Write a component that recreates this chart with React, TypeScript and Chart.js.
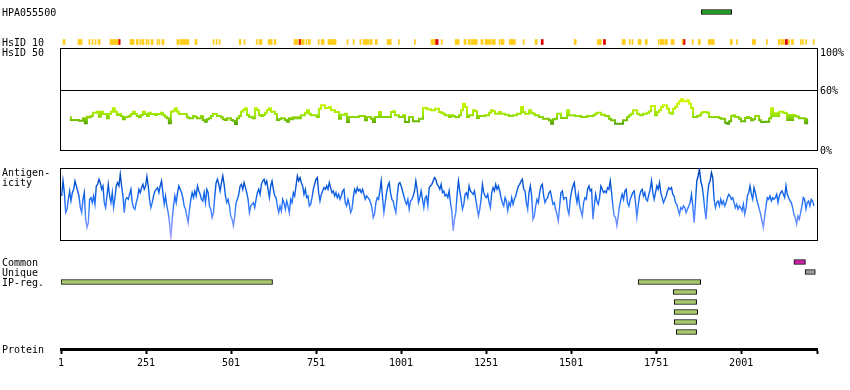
import React, { useEffect, useRef } from 'react';
import { Chart, registerables } from 'chart.js';

Chart.register(...registerables);

// ---------------- data ----------------
const PROTEIN_LENGTH = 2224;
const AXIS_TICKS = [1, 251, 501, 751, 1001, 1251, 1501, 1751, 2001, 2224];
const HSID_TICKS = [0, 60, 100];

const ROW_LABELS = ['HPA055500', '', '', 'HsID 10', 'HsID 50', '', '', '', '', '', '', '', '', '', '', '', 'Antigen-', 'icity', '', '', '', '', '', '', '', 'Common', 'Unique', 'IP-reg.', '', '', '', '', '', ''];
const ROW_KEYS = ROW_LABELS.map((_, i) => 'row' + i);

const HPA_BARS = [[1884, 1973]];
const COMMON_BARS = [[2156, 2190]];
const UNIQUE_BARS = [[2189, 2219]];
// [from, to, track]
const IPREG_BARS = [[1, 623, 27], [1698, 1882, 27], [1801, 1870, 28], [1804, 1870, 29], [1804, 1873, 30], [1804, 1870, 31], [1810, 1870, 32]];

const HSID10_YELLOW = [[7, 13], [51, 63], [83, 86], [92, 95], [101, 104], [110, 116], [145, 169], [204, 216], [222, 228], [233, 236], [239, 245], [251, 254], [257, 260], [266, 272], [283, 286], [289, 292], [298, 304], [342, 348], [351, 377], [395, 401], [448, 451], [457, 460], [466, 469], [525, 530], [539, 542], [575, 578], [583, 592], [610, 622], [628, 633], [686, 698], [707, 716], [721, 724], [728, 734], [757, 760], [766, 775], [786, 810], [842, 845], [860, 863], [880, 883], [889, 907], [910, 916], [925, 931], [960, 972], [993, 996], [1040, 1043], [1089, 1101], [1119, 1122], [1160, 1172], [1186, 1192], [1198, 1204], [1207, 1225], [1236, 1242], [1248, 1266], [1269, 1278], [1289, 1292], [1295, 1304], [1319, 1337], [1360, 1363], [1395, 1401], [1510, 1516], [1578, 1590], [1651, 1660], [1672, 1675], [1680, 1683], [1698, 1707], [1719, 1725], [1757, 1760], [1763, 1775], [1778, 1784], [1795, 1804], [1827, 1830], [1857, 1860], [1875, 1881], [1904, 1922], [1969, 1975], [1987, 1990], [2034, 2043], [2075, 2078], [2110, 2116], [2119, 2128], [2140, 2143], [2149, 2155], [2175, 2178], [2181, 2184], [2190, 2193], [2213, 2216]];
const HSID10_RED = [[169, 175], [701, 707], [1101, 1110], [1413, 1419], [1596, 1602], [1830, 1836], [2131, 2137]];

// HsID 50 identity (%), residues 27..2198 evenly spaced
const HSID_RANGE = [27, 2198];
const HSID50 = [
  32.7, 30, 30, 30, 30, 29.3, 29.3, 31.7, 26.7, 33.3,
  32.7, 34, 37.3, 37.3, 38.3, 33.3, 38.3, 36, 36, 31.7,
  36, 38.3, 41.7, 38.3, 35, 36, 34, 30.7, 32.7, 33.3,
  34, 36, 38.3, 36, 34, 32.7, 35, 38.3, 36, 34,
  37.3, 36, 36, 35, 36, 36, 37.3, 35, 33.3, 31.7,
  26.7, 38.3, 39.3, 41.7, 38.3, 36, 36, 36, 36, 32.7,
  31.7, 31.7, 34, 33.3, 31.7, 31.7, 34, 30, 28.3, 30.7,
  31.7, 34, 36, 36, 34, 34, 32.7, 30.7, 30, 31.7,
  31.7, 30, 29.3, 26, 31.7, 34, 38.3, 40, 41.7, 35,
  33.3, 32.7, 31.7, 41.7, 40, 35, 34, 35, 37.3, 40,
  41.7, 38.3, 38.3, 36, 30, 30.7, 31.7, 31.7, 30, 28.3,
  31.7, 30.7, 32.7, 31.7, 32.7, 31.7,
  34.7, 34.7, 37.3, 39.7, 36.3, 34.7, 34.7, 34.7, 33, 41.3,
  44.7, 44.7, 42, 42, 43, 39.7, 39.7, 38, 38, 31.3,
  35.3, 35.3, 36.3, 28, 33, 33, 33, 33, 33, 34,
  34, 34, 29.7, 33, 33, 31.3, 28, 33, 33, 38,
  33, 33, 33, 33, 33, 38, 38.7, 34.7, 34.7, 33,
  33, 34.7, 28, 28, 33, 33, 28.7, 28.7, 28.7, 31.3,
  31.3, 42, 42, 40.7, 40.7, 39.7, 39.7, 41.3, 41.3, 38,
  37.3, 36.3, 34.7, 34.7, 33, 34.7, 34, 33, 33, 34.7,
  39.7, 46.3, 43, 33, 34.7, 34.7, 39.7, 38.7, 32, 34,
  34, 34, 34.7, 34.7, 37.3, 39.7, 38.7, 36.3, 36.3, 38,
  36.3, 36.3, 35.3, 35.3, 34, 34, 34.7, 34.7, 36.3, 36.3,
  43, 38, 36.3, 36.3, 39.7, 37.3, 36.3, 34.7, 34.7, 33,
  33, 31.3, 31.3, 31.3, 29.7, 26.3, 30.7, 31.3, 36.3, 36.3,
  32, 32, 32, 39.7, 34.7, 34.7, 34.7, 34, 34, 34,
  33, 33, 33, 34, 34, 34, 34.7, 36.3, 37.3, 37.3,
  35.3, 35.3, 34, 34, 31.3, 29.7, 29.7, 26.3, 26.3, 26.3,
  26.3, 29.7, 29.7, 33, 34.7, 36.3, 39.7, 39.7, 36.3, 35.3,
  34.7, 36.3, 36.3, 37.3, 38.7, 44, 44, 34.7, 38, 39.7,
  43, 44.7, 44.7, 41.3, 37.3, 36.3, 41.3, 43, 46.3, 48.7,
  50.7, 48.7, 48.7, 49.7, 46.3, 42, 33, 33, 34, 34.7,
  37.3, 38, 38, 37.3, 33, 33, 33, 33, 33, 32,
  31.3, 31.3, 27.3, 26.3, 28.7, 34, 34.7, 33, 33, 31.3,
  28.7, 28.7, 32, 33, 32, 29.7, 30.7, 34, 34, 29.7,
  28, 28,
  28.3, 28.3, 31.7, 41.7, 34, 36.7, 34, 38.3, 38.3, 37.3,
  36.7, 30, 35, 30, 35, 34, 33.3, 31.7, 31.7, 31.7,
  26.7, 30.7,
];

// Antigenicity score (0..216), residues 3..2215 evenly spaced
const ANTIGEN_RANGE = [3, 2215];
const ANTIGEN = [
  132, 177, 142, 82, 92, 122, 147, 117, 142, 152, 177, 162, 147, 132, 97, 82, 122, 142, 62, 37, 52, 122, 127, 112, 132, 107, 162, 167, 182, 172, 152, 162, 112, 97, 132, 167, 132, 112, 142, 97, 127, 162, 172, 162, 197, 162, 132, 82, 122, 127, 122, 137, 152, 112, 97, 92, 112, 127, 152, 142, 157, 167, 152, 162, 190, 162, 122, 97, 112, 132, 147, 152, 157, 142, 162, 177, 142, 107, 132, 102, 82, 52, 2, 62, 102, 132, 112, 142, 162, 152, 142, 127, 102, 92, 72, 52, 92, 122, 142, 127, 147, 132, 162, 147, 137, 122, 117, 142, 112, 152, 142, 102, 92, 67, 82, 132, 172, 182, 167, 147, 172, 192, 167, 132, 112, 122, 102, 72, 62, 42, 72, 112, 122, 137, 162, 167, 152, 172, 157, 142, 122, 82, 102, 107, 112, 97, 122, 142, 152, 137, 167, 177, 182, 167, 177, 152, 127, 162, 177, 152, 132, 127, 102, 82, 102, 87, 122, 112, 92, 117, 102, 82, 122, 112, 142, 132, 162, 192, 177, 187, 172, 162, 137, 152, 127, 132, 102, 107, 127, 152, 167,
  182, 187, 142, 117, 137, 147, 157, 152, 162, 152, 172, 157, 142, 147, 132, 142, 127, 137, 122, 132, 147, 152, 112, 102, 122, 107, 82, 92, 127, 152, 142, 157, 147, 152, 142, 152, 137, 122, 132, 127, 122, 112, 97, 67, 77, 112, 127, 122, 147, 177, 127, 82, 112, 142, 162, 172, 142, 122, 117, 97, 82, 132, 167, 172, 162, 147, 132, 117, 107, 122, 92, 117, 122, 132, 147, 177, 152, 112, 127, 147, 122, 97, 127, 132, 102, 157, 162, 167, 177, 187, 182, 167, 162, 152, 167, 142, 147, 132, 137, 127, 147, 112, 87, 27, 62, 82, 137, 177, 147, 122, 92, 107, 137, 142, 127, 162, 147, 142, 137, 147, 122, 97, 72, 92, 122, 167, 142, 132, 127, 137, 112, 97, 142, 157, 147, 167, 152, 162, 147, 127, 112, 102, 127, 117, 87, 112, 102, 127, 107, 122, 132, 147, 162, 167, 177, 182, 152, 147, 112, 92, 142, 162, 132, 62, 72, 102, 122, 112, 142, 162, 167, 132, 112, 122, 127, 142, 147, 127, 107, 112, 92, 77, 57, 102, 142, 147, 122, 127,
  127, 92, 77, 122, 147, 162, 172, 137, 112, 137, 102, 87, 72, 112, 127, 122, 152, 162, 147, 152, 62, 102, 137, 117, 107, 127, 162, 152, 142, 147, 142, 157, 152, 177, 142, 102, 72, 67, 42, 72, 102, 122, 137, 122, 147, 152, 112, 102, 122, 132, 142, 147, 112, 67, 102, 132, 147, 152, 132, 142, 122, 117, 137, 152, 177, 142, 122, 142, 162, 152, 172, 142, 127, 112, 122, 132, 147, 157, 152, 157, 137, 132, 112, 107, 92, 77, 97, 92, 102, 97, 82, 92, 102, 112, 137, 102, 52, 112, 177, 192, 212, 177, 162, 132, 92, 62, 132, 167, 177, 202, 187, 122, 97, 112, 117, 102, 122, 107, 117, 102, 112, 127, 137, 132, 122, 127, 112, 97, 107, 92, 102, 97, 87, 107, 77, 97, 132, 142, 162, 137, 122, 157, 142, 122, 107, 92, 77, 57, 37, 72, 102, 127, 122, 132, 117, 127, 122, 127, 137, 112, 132, 142, 147, 137, 127, 162, 137, 127, 117, 112, 97, 77, 67, 47, 72, 62, 82, 102, 127, 122, 92, 112, 117, 102, 122, 117, 102,
];
const ANTIGEN_MAX = 216;

// ---------------- styles ----------------
const FONT = { family: "'DejaVu Sans Mono', monospace", size: 10, lineHeight: 1.2 };
const HSID_COLOR_STOPS: [number, string][] = [[50, '#D6F700'], [42, '#BCF000'], [36, '#A0E800'], [32, '#84D000'], [28, '#62B200'], [25, '#4C9E08']];
const ANTIGEN_COLOR_STOPS: [number, string][] = [[216, '#003CB0'], [180, '#004ECC'], [130, '#1266EC'], [90, '#3A7EFF'], [50, '#6E8EFF'], [0, '#B8AAFF']];

const xAt = (i: number, n: number, range: number[]) => range[0] + (i * (range[1] - range[0])) / (n - 1);

function verticalGradient(stops: [number, string][]) {
  return (ctx: any) => {
    const chart = ctx.chart;
    if (!chart.chartArea) return stops[0][1];
    const y = chart.scales.y;
    const vals = stops.map((s) => s[0]);
    const vmax = Math.max(...vals);
    const vmin = Math.min(...vals);
    const g = chart.ctx.createLinearGradient(0, y.getPixelForValue(vmax), 0, y.getPixelForValue(vmin));
    stops.forEach(([v, c]) => g.addColorStop((v - vmax) / (vmin - vmax), c));
    return g;
  };
}

const boxPlugin = {
  id: 'box',
  beforeDatasetsDraw(chart: any, _a: any, opts: any) {
    if (!opts || !opts.show) return;
    const { ctx, chartArea: a } = chart;
    const top = a.top - (opts.extraTop || 0);
    ctx.save();
    ctx.strokeStyle = '#000';
    ctx.lineWidth = 1;
    ctx.strokeRect(a.left - 0.5, top + 0.5, a.right - a.left + 1, a.bottom - top);
    ctx.restore();
  },
};

const base = {
  responsive: false,
  animation: false as const,
  events: [] as any[],
};
const noPlugins = { legend: { display: false }, tooltip: { enabled: false } };

function rowsConfig(): any {
  const ds = (bars: number[][], row: number, color: string, border: boolean) => ({
    data: bars.map((b) => ({ x: [b[0], b[1]], y: ROW_KEYS[b.length > 2 ? b[2] : row] })),
    backgroundColor: color,
    borderColor: '#000',
    borderWidth: border ? 1 : 0,
    barThickness: 5,
    grouped: false,
    borderSkipped: false,
  });
  return {
    type: 'bar',
    data: {
      labels: ROW_KEYS,
      datasets: [
        ds(HPA_BARS, 0, '#22A022', true),
        ds(HSID10_YELLOW, 3, '#FFCC1A', false),
        ds(HSID10_RED, 3, '#E00000', false),
        ds(COMMON_BARS, 25, '#CC1FA8', true),
        ds(UNIQUE_BARS, 26, '#9A9A9A', true),
        ds(IPREG_BARS, 27, '#A8C86A', true),
      ],
    },
    options: {
      ...base,
      indexAxis: 'y',
      layout: { padding: { left: 2, top: 7, right: 33, bottom: 43 } },
      scales: {
        x: { type: 'linear', min: 1, max: PROTEIN_LENGTH, display: false },
        y: {
          type: 'category',
          position: 'left',
          afterFit: (s: any) => { s.width = 59; },
          grid: { display: false },
          border: { display: false },
          ticks: {
            autoSkip: false,
            crossAlign: 'far',
            padding: 0,
            labelOffset: 1,
            font: FONT,
            color: '#000',
            callback: (_v: any, i: number) => ROW_LABELS[i],
          },
        },
      },
      plugins: noPlugins,
    },
  };
}

function hsidConfig(): any {
  return {
    type: 'line',
    data: {
      datasets: [{
        data: HSID50.map((v, i) => ({ x: xAt(i, HSID50.length, HSID_RANGE), y: v })),
        borderColor: verticalGradient(HSID_COLOR_STOPS),
        borderWidth: 2,
        pointRadius: 0,
        stepped: 'middle',
        fill: false,
      }],
    },
    options: {
      ...base,
      layout: { padding: { left: 61, top: 50, right: 0, bottom: 240 } },
      scales: {
        x: { type: 'linear', min: 1, max: PROTEIN_LENGTH, display: false },
        y: {
          type: 'linear',
          position: 'right',
          min: 0,
          max: 100,
          afterBuildTicks: (s: any) => { s.ticks = HSID_TICKS.map((v) => ({ value: v })); },
          afterFit: (s: any) => { s.width = 33; },
          ticks: {
            autoSkip: false,
            padding: 3,
            labelOffset: 1,
            font: { ...FONT, lineHeight: '5px' },
            color: '#000',
            callback: (v: any) => (v === 100 ? ['', '100%'] : v + '%'),
          },
          grid: {
            drawTicks: false,
            lineWidth: 1,
            color: (c: any) => (c.tick && c.tick.value === 60 ? '#000' : 'rgba(0,0,0,0)'),
          },
          border: { display: false },
        },
      },
      plugins: { ...noPlugins, box: { show: true, extraTop: 2 } },
    },
    plugins: [boxPlugin],
  };
}

function antigenConfig(): any {
  return {
    type: 'line',
    data: {
      datasets: [{
        data: ANTIGEN.map((v, i) => ({ x: xAt(i, ANTIGEN.length, ANTIGEN_RANGE), y: v })),
        borderColor: verticalGradient(ANTIGEN_COLOR_STOPS),
        borderWidth: 1.4,
        pointRadius: 0,
        fill: false,
        tension: 0,
      }],
    },
    options: {
      ...base,
      layout: { padding: { left: 61, top: 168, right: 33, bottom: 150 } },
      scales: {
        x: { type: 'linear', min: 1, max: PROTEIN_LENGTH, display: false },
        y: { type: 'linear', min: 0, max: ANTIGEN_MAX, display: false },
      },
      plugins: { ...noPlugins, box: { show: true, extraTop: 0 } },
    },
    plugins: [boxPlugin],
  };
}

function proteinConfig(): any {
  return {
    type: 'line',
    data: { datasets: [] },
    options: {
      ...base,
      layout: { padding: { left: 2, top: 330, right: 33, bottom: 0 } },
      scales: {
        x: {
          type: 'linear',
          position: 'bottom',
          min: 1,
          max: PROTEIN_LENGTH,
          afterBuildTicks: (s: any) => { s.ticks = AXIS_TICKS.map((v) => ({ value: v })); },
          afterFit: (s: any) => { s.height = 41; },
          ticks: {
            autoSkip: false,
            maxRotation: 0,
            padding: 3.5,
            font: FONT,
            color: '#000',
            callback: (v: any) => (v === PROTEIN_LENGTH ? '' : String(v)),
          },
          grid: { drawOnChartArea: false, tickLength: 5, tickWidth: 2, tickColor: '#000' },
          border: { display: true, width: 3, color: '#000' },
        },
        y: {
          type: 'linear',
          position: 'left',
          min: 0,
          max: 1,
          afterBuildTicks: (s: any) => { s.ticks = [{ value: 0 }]; },
          afterFit: (s: any) => { s.width = 59; },
          ticks: { autoSkip: false, crossAlign: 'far', padding: 0, labelOffset: 1, font: FONT, color: '#000', callback: () => 'Protein' },
          grid: { display: false },
          border: { display: false },
        },
      },
      plugins: noPlugins,
    },
  };
}

export default function App() {
  const r1 = useRef<HTMLCanvasElement>(null);
  const r2 = useRef<HTMLCanvasElement>(null);
  const r3 = useRef<HTMLCanvasElement>(null);
  const r4 = useRef<HTMLCanvasElement>(null);

  useEffect(() => {
    Chart.defaults.font.family = FONT.family;
    Chart.defaults.font.size = FONT.size;
    Chart.defaults.color = '#000';
    const charts = [
      new Chart(r1.current as HTMLCanvasElement, hsidConfig()),
      new Chart(r2.current as HTMLCanvasElement, antigenConfig()),
      new Chart(r3.current as HTMLCanvasElement, rowsConfig()),
      new Chart(r4.current as HTMLCanvasElement, proteinConfig()),
    ];
    return () => charts.forEach((c) => c.destroy());
  }, []);

  const cs: React.CSSProperties = { position: 'absolute', left: 0, top: 0 };
  return (
    <div style={{ position: 'fixed', left: 0, top: 0, width: 850, height: 390, background: '#fff', overflow: 'hidden' }}>
      <canvas ref={r1} width={850} height={390} style={cs} />
      <canvas ref={r2} width={850} height={390} style={cs} />
      <canvas ref={r3} width={850} height={390} style={cs} />
      <canvas ref={r4} width={850} height={390} style={cs} />
    </div>
  );
}
